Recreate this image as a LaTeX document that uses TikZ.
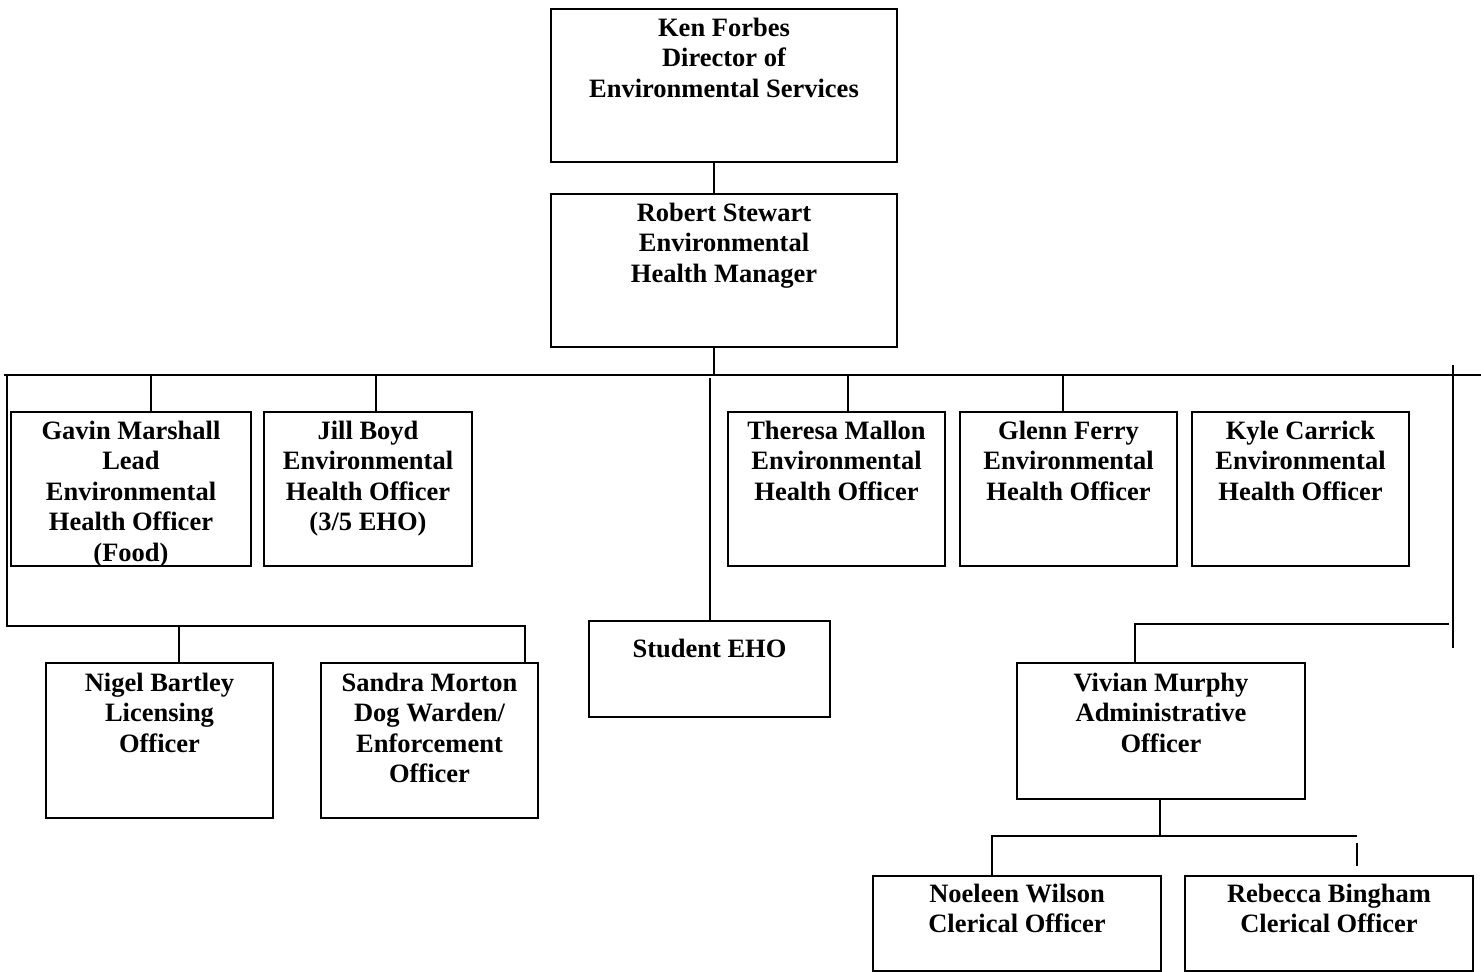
\documentclass[tikz,border=0pt]{standalone}
\usepackage{fontspec}
\setmainfont{Liberation Serif}
\begin{document}
\begin{tikzpicture}[x=1pt,y=-1pt,
  box/.style={draw, line width=2pt, anchor=north west, inner sep=0pt, minimum width=#1},
  wire/.style={line width=2pt},
  txt/.style={font=\fontsize{26.5}{30.5}\selectfont\bfseries, align=center, inner sep=0pt, anchor=north}]
\useasboundingbox (0,0) rectangle (1481,972);
% boxes
\node[box=346, minimum height=153] (ken) at (550,8) {};
\node[box=346, minimum height=153] (rob) at (550,193) {};
\node[box=240, minimum height=154] (gavin) at (10,411) {};
\node[box=208, minimum height=154] (jill) at (263,411) {};
\node[box=217, minimum height=154] (theresa) at (727,411) {};
\node[box=217, minimum height=154] (glenn) at (959,411) {};
\node[box=217, minimum height=154] (kyle) at (1191,411) {};
\node[box=241, minimum height=96] (student) at (588,620) {};
\node[box=227, minimum height=155] (nigel) at (45,662) {};
\node[box=217, minimum height=155] (sandra) at (320,662) {};
\node[box=288, minimum height=136] (vivian) at (1016,662) {};
\node[box=288, minimum height=95] (noeleen) at (872,875) {};
\node[box=288, minimum height=95] (rebecca) at (1184,875) {};
% texts
\node[txt] (kent) at ([yshift=-9.75pt]ken.north) {Ken Forbes\\Director of\\Environmental Services};
\node[txt] (robt) at ([yshift=-9.75pt]rob.north) {Robert Stewart\\Environmental\\Health Manager};
\node[txt] (gavint) at ([yshift=-9.75pt]gavin.north) {Gavin Marshall\\Lead\\Environmental\\Health Officer\\(Food)};
\node[txt] (jillt) at ([yshift=-9.75pt]jill.north) {Jill Boyd\\Environmental\\Health Officer\\(3/5 EHO)};
\node[txt] (theresat) at ([yshift=-9.75pt]theresa.north) {Theresa Mallon\\Environmental\\Health Officer};
\node[txt] (glennt) at ([yshift=-9.75pt]glenn.north) {Glenn Ferry\\Environmental\\Health Officer};
\node[txt] (kylet) at ([yshift=-9.75pt]kyle.north) {Kyle Carrick\\Environmental\\Health Officer};
\node[txt] (studentt) at ([yshift=-18.75pt]student.north) {Student EHO};
\node[txt] (nigelt) at ([yshift=-10.75pt]nigel.north) {Nigel Bartley\\Licensing\\Officer};
\node[txt] (sandrat) at ([yshift=-10.75pt]sandra.north) {Sandra Morton\\Dog Warden/\\Enforcement\\Officer};
\node[txt] (viviant) at ([yshift=-10.75pt]vivian.north) {Vivian Murphy\\Administrative\\Officer};
\node[txt] (noeleent) at ([yshift=-8.75pt]noeleen.north) {Noeleen Wilson\\Clerical Officer};
\node[txt] (rebeccat) at ([yshift=-8.75pt]rebecca.north) {Rebecca Bingham\\Clerical Officer};
% wiring coordinates
\coordinate (spine) at (714,375);
\coordinate (busL) at (4,375);
\coordinate (busR) at (1481,375);
\coordinate (dG) at (151,375);
\coordinate (dJ) at (376,375);
\coordinate (dT) at (848,375);
\coordinate (dGl) at (1063,375);
\coordinate (L1) at (7,375);
\coordinate (L2) at (7,626);
\coordinate (L3) at (525,626);
\coordinate (dN) at (179,626);
\coordinate (sT) at (710,378);
\coordinate (R1) at (1453,365);
\coordinate (R2) at (1453,648);
\coordinate (H1) at (1449,624);
\coordinate (H2) at (1135,624);
\coordinate (vB) at (1160,835);
\coordinate (B1) at (1357,836);
\coordinate (B2) at (992,836);
\coordinate (S1) at (1357,843);
\coordinate (S2) at (1357,866);
% connectors
\draw[wire] (ken.south -| spine) -- (rob.north -| spine);
\draw[wire] (rob.south -| spine) -- (spine);
\draw[wire] (busL) -- (busR);
\draw[wire] (dG) -- (gavin.north -| dG);
\draw[wire] (dJ) -- (jill.north -| dJ);
\draw[wire] (dT) -- (theresa.north -| dT);
\draw[wire] (dGl) -- (glenn.north -| dGl);
\draw[wire] (L1) -- (L2) -- (L3) -- (sandra.north -| L3);
\draw[wire] (dN) -- (nigel.north -| dN);
\draw[wire] (sT) -- (student.north -| sT);
\draw[wire] (R1) -- (R2);
\draw[wire] (H1) -- (H2) -- (vivian.north -| H2);
\draw[wire] (vivian.south -| vB) -- (vB);
\draw[wire] (B1) -- (B2) -- (noeleen.north -| B2);
\draw[wire] (S1) -- (S2);
\end{tikzpicture}
\end{document}
